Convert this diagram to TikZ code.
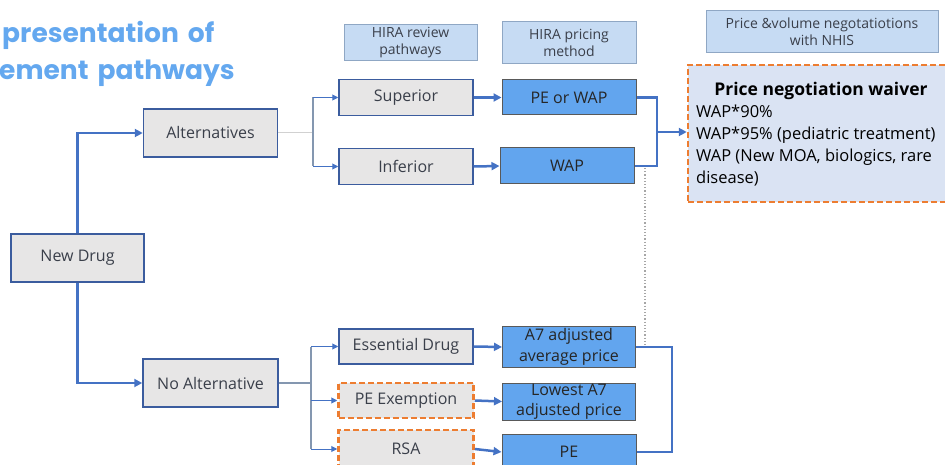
\documentclass[tikz,border=0pt]{standalone}
\usepackage{fontspec}
\setmainfont{Open Sans}
\newfontfamily\titlefont{Poppins}[WordSpace=1.6]
\usetikzlibrary{arrows.meta}
\definecolor{ttl}{HTML}{64A8EF}
\definecolor{bord}{HTML}{3B5C9E}
\definecolor{grayfill}{HTML}{E7E6E6}
\definecolor{bluefill}{HTML}{62A5EE}
\definecolor{hdrfill}{HTML}{C6DBF3}
\definecolor{hdrbord}{HTML}{8FA7C4}
\definecolor{wvfill}{HTML}{DAE3F3}
\definecolor{org}{HTML}{ED7D31}
\definecolor{conn}{HTML}{4472C4}
\definecolor{thin}{HTML}{8497B0}
\definecolor{txt}{HTML}{3A3F4A}
\tikzset{
  graybox/.style={draw=bord, line width=1.5pt, fill=grayfill, inner sep=0pt, font=\fontsize{16}{18}\selectfont, text=txt},
  orgbox/.style={draw=org, dashed, dash pattern=on 6pt off 3pt, line width=2.5pt, fill=grayfill, inner sep=0pt, font=\fontsize{16}{18}\selectfont, text=txt},
  bluebox/.style={draw=black!65, line width=1pt, fill=bluefill, inner sep=0pt, align=center, font=\fontsize{16}{21}\selectfont, text=black!85},
  hdrbox/.style={draw=hdrbord, line width=1pt, fill=hdrfill, inner sep=0pt, align=center, font=\fontsize{14}{17}\selectfont, text=txt},
  thickarr/.style={draw=conn, line width=2.5pt, -{Triangle[length=8pt,width=8pt]}},
  thickline/.style={draw=conn, line width=2.5pt},
  thinarr/.style={draw=conn, line width=1pt, -{Triangle[length=6pt,width=6pt]}},
  thinline/.style={draw=thin, line width=1.2pt},
  ttlstyle/.style={anchor=base west, inner sep=0pt, text=ttl, font=\titlefont\bfseries\fontsize{26.5}{30}\selectfont},
}
\begin{document}
\begin{tikzpicture}[x=1pt,y=-1pt]
\useasboundingbox (0,0) rectangle (945,465);
% title
\node[ttlstyle] (t1) at (2,43) {presentation of};
\node[ttlstyle] (t2) at (-1,80) {ement pathways};
% headers
\node[hdrbox, minimum width=133pt, minimum height=36pt] (h1) at (410.5,43) {HIRA review\\pathways};
\node[hdrbox, minimum width=134pt, minimum height=42pt] (h2) at (569,43) {HIRA pricing\\method};
\node[hdrbox, minimum width=232pt, minimum height=42pt] (h3) at (822,32) {Price \&volume negotatiotions\\with NHIS};
% left boxes
\node[graybox, minimum width=133pt, minimum height=48pt] (nd) at (77.5,258) {New Drug};
\node[graybox, minimum width=134pt, minimum height=48pt] (alt) at (210.5,133) {Alternatives};
\node[graybox, minimum width=135pt, minimum height=48pt] (noalt) at (210.5,383) {No Alternative};
% review pathways
\node[graybox, minimum width=134pt, minimum height=36pt] (sup) at (406,97.5) {Superior};
\node[graybox, minimum width=134pt, minimum height=36pt] (inf) at (406,166.5) {Inferior};
\node[graybox, minimum width=134pt, minimum height=35pt] (ess) at (406,346.5) {Essential Drug};
\node[orgbox, minimum width=135pt, minimum height=35pt] (pex) at (406,400.5) {PE Exemption};
\node[orgbox, minimum width=135pt, minimum height=38pt] (rsa) at (406,449) {RSA};
% pricing
\node[bluebox, minimum width=134pt, minimum height=35pt] (pw) at (569,97.5) {PE or WAP};
\node[bluebox, minimum width=134pt, minimum height=36pt] (wap) at (567,166) {WAP};
\node[bluebox, minimum width=133pt, minimum height=41pt] (a7) at (569,347) {A7 adjusted\\average price};
\node[bluebox, minimum width=133pt, minimum height=37pt] (low) at (569,401.5) {Lowest A7\\[-1pt]adjusted price};
\node[bluebox, minimum width=134pt, minimum height=36pt] (pe) at (569,452) {PE};
% waiver
\node[draw=org, dashed, dash pattern=on 6pt off 3pt, line width=2.5pt, fill=wvfill, minimum width=267pt, minimum height=137pt, inner sep=0pt] (wv) at (821.5,133.5) {};
\node[font=\bfseries\fontsize{17.5}{20}\selectfont, inner sep=0pt] (wvt) at (821,91) {Price negotiation waiver};
\node[anchor=west, align=left, inner sep=0pt, font=\fontsize{16.5}{21.7}\selectfont] (wvb) at (696,145.5) {WAP*90\%\\WAP*95\% (pediatric treatment)\\WAP (New MOA, biologics, rare\\disease)};
% connectors from New Drug
\draw[thickarr] (nd.north) |- (alt.west);
\draw[thickarr] (nd.south) |- (noalt.west);
% branch alternatives
\coordinate (ba) at (313,133);
\draw[draw=black!18, line width=1pt] (alt.east) -- (ba);
\draw[thinline] (ba |- sup.west) -- (ba |- inf.west);
\draw[thinarr] (ba |- sup.west) -- (sup.west);
\draw[thinarr] (ba |- inf.west) -- (inf.west);
% branch no alternative
\coordinate (bn) at (311,383);
\draw[thinline] (noalt.east) -- (bn);
\draw[thinline] (bn |- ess.west) -- (bn |- rsa.west);
\draw[thinarr] (bn |- ess.west) -- (ess.west);
\draw[thinarr] (bn |- pex.west) -- (pex.west);
\draw[thinarr] (bn |- rsa.west) -- (rsa.west);
% review -> pricing
\draw[thickarr] (sup.east) -- (pw.west);
\draw[thickarr] (inf.east) -- (wap.west);
\draw[thickarr] (ess.east) -- (a7.west);
\draw[thickarr] (pex.east) -- (low.west);
\draw[thickarr] (rsa.east) -- (pe.west);
% brackets
\coordinate (j1) at (657,132);
\draw[thickline] (pw.east) -| (j1) |- (wap.east);
\draw[thickarr] (j1) -- (wv.west |- j1);
\coordinate (j2) at (672,400);
\draw[thickline] (a7.east) -| (j2) |- (pe.east);
% dotted
\coordinate (d1) at (645,168);
\coordinate (d2) at (645,346);
\draw[draw=black!35, line width=1.2pt, dotted] (d1) -- (d2);
\end{tikzpicture}
\end{document}
